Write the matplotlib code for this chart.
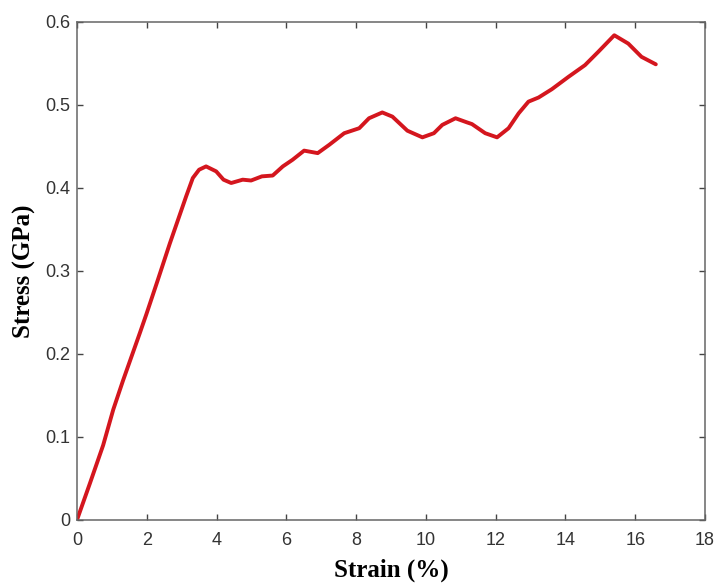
import matplotlib
matplotlib.use("Agg")
import matplotlib.pyplot as plt

# strain (%) and stress (GPa)
strain = [0.0, 0.37, 0.75, 1.04, 1.32, 1.8, 1.99, 2.3, 2.66, 3.13, 3.32, 3.5, 3.7,
          3.99, 4.2, 4.42, 4.75, 4.99, 5.3, 5.61, 5.9, 6.18, 6.51, 6.9, 7.23,
          7.66, 8.09, 8.37, 8.75, 9.04, 9.47, 9.9, 10.23, 10.47, 10.85, 11.18,
          11.32, 11.7, 12.04, 12.37, 12.66, 12.94, 13.23, 13.61, 14.09, 14.56,
          14.94, 15.4, 15.8, 16.18, 16.59]
stress = [0.0, 0.044, 0.09, 0.133, 0.168, 0.225, 0.248, 0.287, 0.333, 0.39, 0.412,
          0.422, 0.426, 0.42, 0.41, 0.406, 0.41, 0.409, 0.414, 0.415, 0.426,
          0.434, 0.445, 0.442, 0.452, 0.466, 0.472, 0.484, 0.491, 0.486, 0.469,
          0.461, 0.466, 0.476, 0.484, 0.479, 0.477, 0.466, 0.461, 0.472, 0.49,
          0.504, 0.509, 0.519, 0.534, 0.548, 0.564, 0.584, 0.574, 0.558, 0.549]

xticks = list(range(0, 19, 2))
yticks = [0, 0.1, 0.2, 0.3, 0.4, 0.5, 0.6]
ytick_labels = ["0", "0.1", "0.2", "0.3", "0.4", "0.5", "0.6"]

fig = plt.figure(figsize=(7.18, 5.83), dpi=100)
ax = fig.add_axes([0.1072, 0.1081, 0.8747, 0.8542])

ax.plot(strain, stress, color="#d4161e", lw=2.8, solid_joinstyle="round",
        solid_capstyle="round")

ax.set_xlim(0, 18)
ax.set_ylim(0, 0.6)
ax.set_xticks(xticks)
ax.set_yticks(yticks)
ax.set_yticklabels(ytick_labels)

ax.tick_params(direction="in", length=4, width=1, color="#444444",
               top=True, right=True, labelsize=13, labelcolor="#333333")
ax.tick_params(axis="x", pad=9)
ax.tick_params(axis="y", pad=5)
for lab in ax.get_xticklabels() + ax.get_yticklabels():
    lab.set_family("Liberation Sans")
for sp in ax.spines.values():
    sp.set_color("#666666")
    sp.set_linewidth(1.1)

ax.set_xlabel("Strain (%)", family="Liberation Serif", fontweight="bold",
              fontsize=18)
ax.set_ylabel("Stress (GPa)", family="Liberation Serif", fontweight="bold",
              fontsize=18)
ax.xaxis.label.set_va("center")
ax.yaxis.label.set_va("center")
ax.xaxis.set_label_coords(0.5, -0.101)
ax.yaxis.set_label_coords(-0.083, 0.5)

fig.savefig("out.png", dpi=100)
